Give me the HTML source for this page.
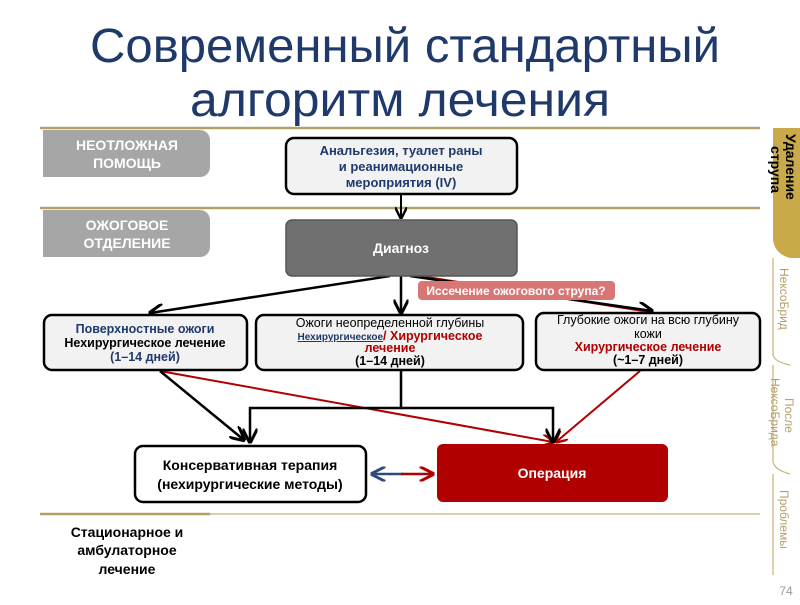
<!DOCTYPE html>
<html><head><meta charset="utf-8"><style>
body{margin:0;width:800px;height:600px;background:#fff;overflow:hidden;font-family:"Liberation Sans","DejaVu Sans",sans-serif}
</style></head><body>
<svg width="800" height="600" xmlns="http://www.w3.org/2000/svg" font-family="Liberation Sans, DejaVu Sans, sans-serif">
<defs>
<marker id="ab" viewBox="0 0 10 10" refX="9" refY="5" markerWidth="6" markerHeight="6" orient="auto"><path d="M0,0L10,5L0,10" fill="none" stroke="#000" stroke-width="2"/></marker>
<marker id="ar" viewBox="0 0 10 10" refX="9" refY="5" markerWidth="6" markerHeight="6" orient="auto"><path d="M0,0L10,5L0,10" fill="none" stroke="#b00000" stroke-width="2"/></marker>
<marker id="ablue" viewBox="0 0 10 10" refX="9" refY="5" markerWidth="6" markerHeight="6" orient="auto"><path d="M0,0L10,5L0,10" fill="none" stroke="#2e4a7a" stroke-width="2"/></marker>
</defs>
<text x="405" y="62" font-size="48" text-anchor="middle" fill="#1f3a6a" textLength="630" lengthAdjust="spacingAndGlyphs">Современный стандартный</text>
<text x="400" y="116" font-size="48" text-anchor="middle" fill="#1f3a6a" textLength="420" lengthAdjust="spacingAndGlyphs">алгоритм лечения</text>
<g stroke="#b3a068" stroke-width="2.5">
<line x1="40" y1="128" x2="760" y2="128"/><line x1="40" y1="208" x2="760" y2="208"/><line x1="40" y1="514" x2="210" y2="514"/>
</g>
<line x1="210" y1="514" x2="760" y2="514" stroke="#d8cfae" stroke-width="2"/>
<path d="M43,130H200a10,10 0 0 1 10,10V167a10,10 0 0 1-10,10H43Z" fill="#a6a6a6"/>
<path d="M43,210H200a10,10 0 0 1 10,10V247a10,10 0 0 1-10,10H43Z" fill="#a6a6a6"/>
<g fill="#fff" font-weight="bold" font-size="14" text-anchor="middle">
<text x="127" y="150">НЕОТЛОЖНАЯ</text><text x="127" y="168">ПОМОЩЬ</text>
<text x="127" y="230">ОЖОГОВОЕ</text><text x="127" y="248">ОТДЕЛЕНИЕ</text>
</g>
<path d="M773,128H800V258H790Q775,254 773,240Z" fill="#c9a94a"/>
<path d="M773,258V355Q775,362 790,365 M773,365V462Q775,470 790,474 M773,474V575" fill="none" stroke="#c9b27a" stroke-width="1.2"/>
<text transform="translate(786,134) rotate(90)" font-size="14" font-weight="bold" fill="#000">Удаление</text>
<text transform="translate(771,146) rotate(90)" font-size="14" font-weight="bold" fill="#000">струпа</text>
<text transform="translate(780,268) rotate(90)" font-size="12" fill="#b5a06a">НексоБрид</text>
<text transform="translate(785,398) rotate(90)" font-size="12" fill="#b5a06a">После</text>
<text transform="translate(771,378) rotate(90)" font-size="12" fill="#b5a06a">НексоБрида</text>
<text transform="translate(780,490) rotate(90)" font-size="12" fill="#b5a06a">Проблемы</text>
<text x="786" y="595" font-size="12" fill="#999" text-anchor="middle">74</text>
<line x1="401" y1="194" x2="401" y2="218" stroke="#000" stroke-width="2" marker-end="url(#ab)"/>
<line x1="420" y1="276" x2="650" y2="312" stroke="#b00000" stroke-width="2"/>
<line x1="390" y1="276" x2="150" y2="313" stroke="#000" stroke-width="2.5" marker-end="url(#ab)"/>
<line x1="401" y1="276" x2="401" y2="313" stroke="#000" stroke-width="2.5" marker-end="url(#ab)"/>
<line x1="410" y1="276" x2="652" y2="311" stroke="#000" stroke-width="2.5" marker-end="url(#ab)"/>
<line x1="160" y1="371" x2="553" y2="442" stroke="#b00000" stroke-width="2" marker-end="url(#ar)"/>
<line x1="640" y1="371" x2="556" y2="442" stroke="#b00000" stroke-width="2" marker-end="url(#ar)"/>
<line x1="160" y1="371" x2="244" y2="440" stroke="#000" stroke-width="2.5" marker-end="url(#ab)"/>
<polyline points="401,371 401,408 250,408 250,442" fill="none" stroke="#000" stroke-width="2.5" marker-end="url(#ab)"/>
<polyline points="401,408 553,408 553,442" fill="none" stroke="#000" stroke-width="2.5" marker-end="url(#ab)"/>
<line x1="403" y1="474" x2="372" y2="474" stroke="#2e4a7a" stroke-width="2.5" marker-end="url(#ablue)"/>
<line x1="401" y1="474" x2="433" y2="474" stroke="#b00000" stroke-width="2.5" marker-end="url(#ar)"/>
<rect x="286" y="138" width="231" height="56" rx="8" fill="#f2f2f2" stroke="#000" stroke-width="2.5"/>
<g font-size="13" text-anchor="middle" font-weight="bold" fill="#1f3a6a">
<text x="401" y="155">Анальгезия, туалет раны</text><text x="401" y="171">и реанимационные</text><text x="401" y="187">мероприятия (IV)</text></g>
<rect x="286" y="220" width="231" height="56" rx="6" fill="#707070" stroke="#555" stroke-width="1.5"/>
<text x="401" y="253" font-size="14" font-weight="bold" fill="#fff" text-anchor="middle">Диагноз</text>
<rect x="418" y="281" width="197" height="19" rx="4" fill="#d87575"/>
<text x="516" y="295" font-size="12" font-weight="bold" fill="#fff" text-anchor="middle">Иссечение ожогового струпа?</text>
<rect x="44" y="315" width="203" height="55" rx="8" fill="#f2f2f2" stroke="#000" stroke-width="2.5"/>
<g font-size="12.5" text-anchor="middle" font-weight="bold">
<text x="145" y="333" fill="#1f3a6a">Поверхностные ожоги</text><text x="145" y="347">Нехирургическое лечение</text><text x="145" y="361" fill="#1f3a6a">(1–14 дней)</text></g>
<rect x="256" y="315" width="267" height="55" rx="8" fill="#f2f2f2" stroke="#000" stroke-width="2.5"/>
<g font-size="12.5" text-anchor="middle">
<text x="390" y="327">Ожоги неопределенной глубины</text>
<text x="390" y="340" font-weight="bold"><tspan fill="#1f3a6a" font-size="10" text-decoration="underline">Нехирургическое</tspan><tspan fill="#b00000">/ Хирургическое</tspan></text>
<text x="390" y="352" font-weight="bold" fill="#b00000">лечение</text>
<text x="390" y="365" font-weight="bold">(1–14 дней)</text></g>
<rect x="536" y="313" width="224" height="57" rx="8" fill="#f2f2f2" stroke="#000" stroke-width="2.5"/>
<g font-size="12.5" text-anchor="middle">
<text x="648" y="324">Глубокие ожоги на всю глубину</text>
<text x="648" y="338">кожи</text>
<text x="648" y="351" font-weight="bold" fill="#b00000">Хирургическое лечение</text>
<text x="648" y="364" font-weight="bold">(~1–7 дней)</text></g>
<rect x="135" y="446" width="231" height="56" rx="8" fill="#fff" stroke="#000" stroke-width="2.5"/>
<g font-size="14" text-anchor="middle" font-weight="bold">
<text x="250" y="470">Консервативная терапия</text><text x="250" y="489">(нехирургические методы)</text></g>
<rect x="437" y="444" width="231" height="58" rx="6" fill="#b00000"/>
<text x="552" y="478" font-size="14" font-weight="bold" fill="#fff" text-anchor="middle">Операция</text>
<g font-size="14" text-anchor="middle" font-weight="bold">
<text x="127" y="537">Стационарное и</text><text x="127" y="555">амбулаторное</text><text x="127" y="574">лечение</text></g>
</svg>
</body></html>
